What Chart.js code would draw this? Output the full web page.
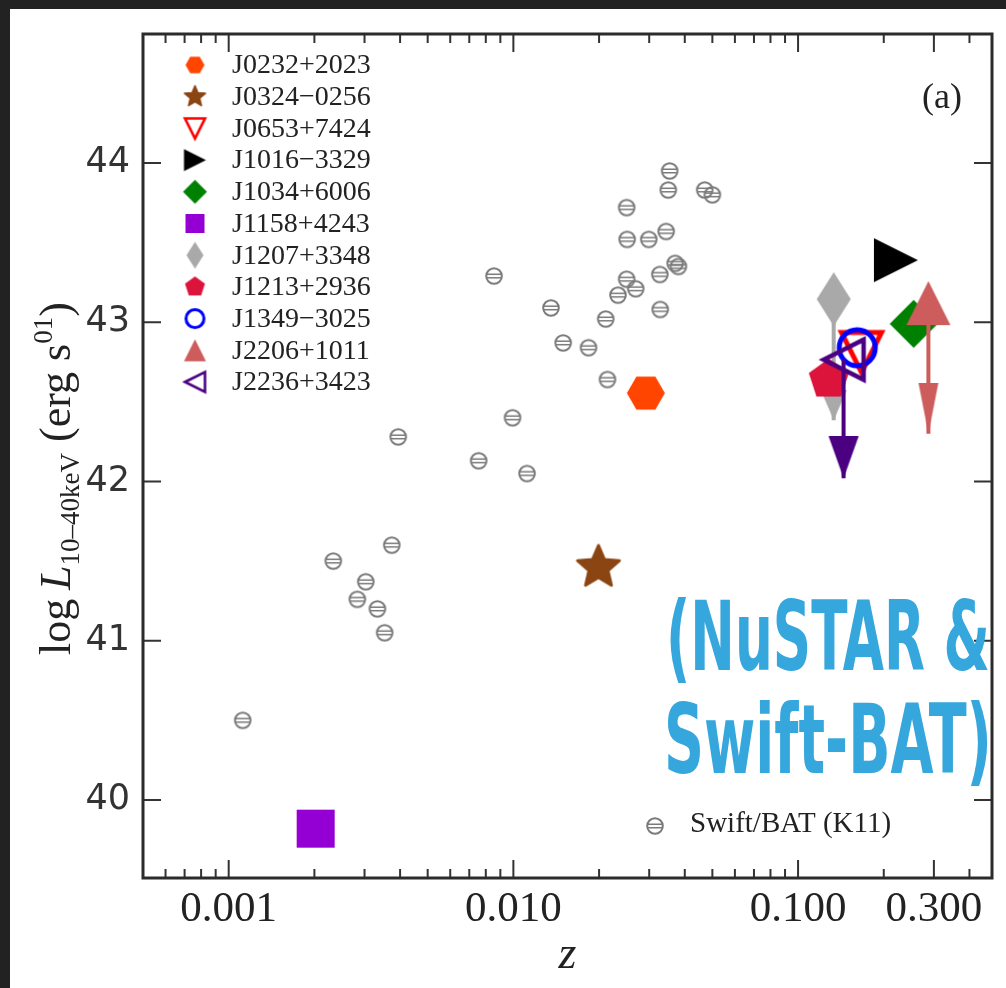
<!DOCTYPE html>
<html>
<head>
<meta charset="utf-8">
<script src="https://cdn.jsdelivr.net/npm/chart.js"></script>
<style>
  html, body { margin: 0; padding: 0; background: #222; }
  #paper { position: absolute; left: 10px; top: 9px; width: 996px; height: 979px; background: #fff; }
  #myChart { position: absolute; left: 0; top: 0; }
</style>
</head>
<body>
<div id="paper"></div>
<canvas id="myChart" width="1006" height="988"></canvas>

<script>
    // Swift/BAT (K11) comparison sample
    const swiftZ = [0.00112, 0.00233, 0.00303, 0.00283, 0.00333, 0.00353, 0.00374, 0.00394,
        0.00755, 0.00993, 0.01117, 0.00855, 0.01355, 0.01496, 0.01836, 0.0211, 0.0214, 0.0233,
        0.0250, 0.0269, 0.0327, 0.0328, 0.0370, 0.0380, 0.0251, 0.0299, 0.0344, 0.0250,
        0.0350, 0.0354, 0.0470, 0.0500];
    const swiftL = [40.50, 41.50, 41.37, 41.26, 41.20, 41.05, 41.60, 42.28,
        42.13, 42.40, 42.05, 43.29, 43.09, 42.87, 42.84, 43.02, 42.64, 43.17,
        43.27, 43.21, 43.30, 43.08, 43.37, 43.35, 43.52, 43.52, 43.57, 43.72,
        43.83, 43.95, 43.83, 43.80];

    // NuSTAR sources
    const srcNames = ['J0232+2023', 'J0324\u22120256', 'J0653+7424', 'J1016\u22123329', 'J1034+6006',
        'J1158+4243', 'J1207+3348', 'J1213+2936', 'J1349\u22123025', 'J2206+1011', 'J2236+3423'];
    const srcZ = [0.0292, 0.0199, 0.167, 0.2207, 0.2547, 0.00202, 0.1334, 0.1282, 0.1614, 0.287, 0.1445];
    const srcL = [42.555, 41.46, 42.81, 43.39, 42.99, 39.82, 43.145, 42.64, 42.84, 43.12, 42.765];

    // upper limits (arrow tips)
    const arrowSrc = ['J1207+3348', 'J2206+1011', 'J2236+3423'];
    const arrowTipL = [42.385, 42.30, 42.02];

    const xTickVals = [0.001, 0.01, 0.1, 0.3];
    const xTickLabels = ['0.001', '0.010', '0.100', '0.300'];
    const yTickVals = [40, 41, 42, 43, 44];

    // styles
    const srcShape = ['hexagon', 'star', 'triDownOpen', 'triRight', 'diamond', 'square',
        'thinDiamond', 'pentagon', 'circleOpen', 'triUp', 'triLeftOpen'];
    const srcColor = ['#ff4500', '#8b4513', '#ff0000', '#000000', '#008000', '#9400d3',
        '#a9a9a9', '#dc143c', '#0000ff', '#cd5c5c', '#4b0082'];
    const headSize = [[26, 30], [20, 51], [30, 42]];
    const AREA = { left: 143, top: 34, right: 1001, bottom: 878 };
    const pad = { top: 34, right: 5, left: 0, bottom: 0 };

    function makeCanvas(w, h, draw) {
        const c = document.createElement('canvas');
        c.width = Math.ceil(w); c.height = Math.ceil(h);
        const g = c.getContext('2d');
        g.translate(c.width / 2, c.height / 2);
        draw(g);
        return c;
    }
    function path(g, pts) {
        g.beginPath();
        pts.forEach((p, i) => i ? g.lineTo(p[0], p[1]) : g.moveTo(p[0], p[1]));
        g.closePath();
    }
    function regPts(n, r, start) {
        const pts = [];
        for (let k = 0; k < n; k++) {
            const t = start + k * 2 * Math.PI / n;
            pts.push([r * Math.cos(t), r * Math.sin(t)]);
        }
        return pts;
    }
    function marker(kind, color, s) {
        const box = 66 * s;
        return makeCanvas(box, box, g => {
            g.fillStyle = color; g.strokeStyle = color; g.lineJoin = 'miter';
            let a = 22 * s;
            switch (kind) {
                case 'hexagon': path(g, regPts(6, 19 * s, 0)); g.fill(); break;
                case 'star': {
                    const pts = [];
                    for (let k = 0; k < 10; k++) {
                        const r = k % 2 ? 10 * s : 22 * s;
                        const t = -Math.PI / 2 + k * Math.PI / 5;
                        pts.push([r * Math.cos(t), r * Math.sin(t)]);
                    }
                    path(g, pts); g.fill();
                    g.lineJoin = 'round'; g.lineWidth = 3 * s; g.stroke();
                    break;
                }
                case 'triDownOpen': a = 20 * s; path(g, [[-a, -a], [a, -a], [0, a]]);
                    g.lineWidth = Math.max(2.6, 5 * s); g.stroke(); break;
                case 'triRight': path(g, [[-a, -a], [a, 0], [-a, a]]); g.fill(); break;
                case 'triUp': path(g, [[0, -a], [a, a], [-a, a]]); g.fill(); break;
                case 'triLeftOpen': a = 20 * s; path(g, [[-a, 0], [a, -a], [a, a]]);
                    g.lineWidth = Math.max(2.6, 4.5 * s); g.stroke(); break;
                case 'diamond': a = 24 * s; path(g, [[0, -a], [a, 0], [0, a], [-a, 0]]); g.fill(); break;
                case 'thinDiamond': path(g, [[0, -27 * s], [17 * s, 0], [0, 27 * s], [-17 * s, 0]]); g.fill(); break;
                case 'square': a = 19 * s; g.fillRect(-a, -a, 2 * a, 2 * a); break;
                case 'pentagon': path(g, regPts(5, 21 * s, -Math.PI / 2)); g.fill(); break;
                case 'circleOpen': g.beginPath(); g.arc(0, 0, 18 * s, 0, 2 * Math.PI);
                    g.lineWidth = Math.max(3, 5 * s); g.stroke(); break;
            }
        });
    }
    function swiftMarker() {
        return makeCanvas(20, 20, g => {
            g.strokeStyle = '#7a7a7a'; g.lineWidth = 2;
            g.beginPath(); g.arc(0, 0, 7.8, 0, 2 * Math.PI); g.stroke();
            g.lineWidth = 1.5;
            g.beginPath();
            g.moveTo(-7, -1.7); g.lineTo(7, -1.7);
            g.moveTo(-7, 1.7); g.lineTo(7, 1.7);
            g.stroke();
        });
    }
    function arrowHead(color, w, h) {
        // tip of the head sits at the canvas centre
        return makeCanvas(w + 2, 2 * h, g => {
            g.fillStyle = color;
            path(g, [[-w / 2, -h], [w / 2, -h], [0, 0]]);
            g.fill();
        });
    }

    const swiftIcon = swiftMarker();
    const bigIcons = srcShape.map((k, i) => marker(k, srcColor[i], 1));
    const smallIcons = srcShape.map((k, i) => marker(k, srcColor[i], 0.5));

    const datasets = [];
    datasets.push({
        label: 'Swift/BAT (K11)',
        data: swiftZ.map((z, i) => ({ x: z, y: swiftL[i] })),
        pointStyle: swiftIcon, pointRadius: 8, order: 1000
    });
    srcNames.forEach((name, i) => {
        datasets.push({
            label: name,
            data: [{ x: srcZ[i], y: srcL[i] }],
            pointStyle: bigIcons[i], pointRadius: 12, order: 100 - 2 * i
        });
    });
    arrowSrc.forEach((name, k) => {
        const i = srcNames.indexOf(name);
        datasets.push({
            label: name + ' limit',
            data: [{ x: srcZ[i], y: srcL[i] }, { x: srcZ[i], y: arrowTipL[k] }],
            showLine: true, borderColor: srcColor[i], borderWidth: 4,
            pointStyle: arrowHead(srcColor[i], headSize[k][0], headSize[k][1]),
            pointRadius: c => c.dataIndex === 1 ? 10 : 0,
            order: 100 - 2 * i + 1
        });
    });

    const decor = {
        id: 'decor',
        afterDraw(chart) {
            const { ctx, chartArea: a, scales: { x, y } } = chart;
            ctx.save();

            // inward ticks on all four sides
            ctx.strokeStyle = '#333'; ctx.lineWidth = 2;
            const vt = (px, len) => {
                ctx.beginPath();
                ctx.moveTo(px, a.bottom); ctx.lineTo(px, a.bottom - len);
                ctx.moveTo(px, a.top); ctx.lineTo(px, a.top + len);
                ctx.stroke();
            };
            for (let d = -4; d <= 0; d++) {
                for (let m = 1; m <= 9; m++) {
                    const v = m * Math.pow(10, d);
                    if (v < x.min || v > x.max) continue;
                    const major = xTickVals.some(t => Math.abs(t - v) / t < 1e-6);
                    vt(x.getPixelForValue(v), major ? 18 : 9);
                }
            }
            yTickVals.forEach(v => {
                const py = y.getPixelForValue(v);
                ctx.beginPath();
                ctx.moveTo(a.left, py); ctx.lineTo(a.left + 18, py);
                ctx.moveTo(a.right, py); ctx.lineTo(a.right - 18, py);
                ctx.stroke();
            });

            // frame
            ctx.strokeStyle = '#2b2b2b'; ctx.lineWidth = 3;
            ctx.strokeRect(a.left, a.top, a.right - a.left, a.bottom - a.top);

            // legend (top left)
            ctx.fillStyle = '#222';
            ctx.font = '28px "Liberation Serif", serif';
            ctx.textBaseline = 'middle'; ctx.textAlign = 'left';
            srcNames.forEach((name, i) => {
                const ly = 65 + i * 31.7;
                const ic = smallIcons[i];
                ctx.drawImage(ic, 195 - ic.width / 2, ly - ic.height / 2);
                ctx.fillText(name, 232, ly + 1);
            });
            // Swift/BAT legend entry
            ctx.drawImage(swiftIcon, 655 - swiftIcon.width / 2, 826 - swiftIcon.height / 2);
            ctx.font = '29px "Liberation Serif", serif';
            ctx.textBaseline = 'alphabetic';
            ctx.fillText('Swift/BAT (K11)', 690, 832);

            // panel tag
            ctx.font = '36px "Liberation Serif", serif';
            ctx.textAlign = 'center'; ctx.textBaseline = 'middle';
            ctx.fillText('(a)', 942, 99);

            // y axis title
            ctx.save();
            ctx.translate(70, 655);
            ctx.rotate(-Math.PI / 2);
            ctx.textAlign = 'left'; ctx.textBaseline = 'alphabetic';
            let u = 0;
            const piece = (t, font, dv) => {
                ctx.font = font; ctx.fillText(t, u, dv); u += ctx.measureText(t).width;
            };
            piece('log\u2009', '44px "Liberation Serif"', 0);
            piece('L', 'italic 44px "Liberation Serif"', 0);
            piece('10\u201340keV', '27px "Liberation Serif"', 9);
            piece(' (erg s', '44px "Liberation Serif"', 0);
            piece('01', '27px "Liberation Serif"', -18);
            piece(')', '44px "Liberation Serif"', 0);
            ctx.restore();

            // overlay label
            ctx.fillStyle = '#36a7dd';
            ctx.textAlign = 'left'; ctx.textBaseline = 'alphabetic';
            const fit = (t, left, right, base) => {
                ctx.font = 'bold 96px "Liberation Sans Narrow", "DejaVu Sans Condensed", sans-serif';
                const w = ctx.measureText(t).width;
                ctx.save();
                ctx.translate(left, base);
                ctx.scale((right - left) / w, 1);
                ctx.fillText(t, 0, 0);
                ctx.restore();
            };
            fit('(NuSTAR &', 666, 990, 670);
            fit('Swift-BAT)', 664, 992, 773);

            ctx.restore();
        }
    };

    const chartConfig = {
        type: 'scatter',
        data: { datasets: datasets },
        options: {
            responsive: false,
            animation: false,
            events: [],
            layout: { padding: pad },
            plugins: { legend: { display: false }, tooltip: { enabled: false } },
            scales: {
                x: {
                    type: 'logarithmic',
                    min: 0.0005, max: 0.48,
                    afterBuildTicks: s => { s.ticks = xTickVals.map(v => ({ value: v })); },
                    afterFit: s => { s.height = 110; s.paddingLeft = 0; s.paddingRight = 0; },
                    grid: { display: false, drawTicks: false },
                    border: { display: false },
                    ticks: {
                        callback: (v, idx) => xTickLabels[idx],
                        font: { family: 'Liberation Serif', size: 43 },
                        color: '#222', padding: 6, maxRotation: 0, autoSkip: false
                    },
                    title: {
                        display: true, text: 'z',
                        font: { family: 'Liberation Serif', style: 'italic', size: 46 },
                        color: '#222', padding: { top: 0, bottom: 4 }
                    }
                },
                y: {
                    type: 'linear',
                    min: 39.51, max: 44.81,
                    afterBuildTicks: s => { s.ticks = yTickVals.map(v => ({ value: v })); },
                    afterFit: s => { s.width = 143; s.paddingTop = 0; s.paddingBottom = 0; },
                    grid: { display: false, drawTicks: false },
                    border: { display: false },
                    ticks: {
                        callback: v => String(v),
                        font: { family: 'DejaVu Sans', size: 35 },
                        color: '#333', padding: 13
                    }
                }
            }
        },
        plugins: [decor]
    };

    const ctx = document.getElementById('myChart');
    const myChart = new Chart(ctx, chartConfig);

    // nudge the layout padding (on the config object itself) until the frame sits where the figure has it
    for (let it = 0; it < 4; it++) {
        const a = myChart.chartArea;
        const dR = AREA.right - a.right, dT = a.top - AREA.top, dB = AREA.bottom - a.bottom;
        if (Math.abs(dR) < 0.3 && Math.abs(dT) < 0.3 && Math.abs(dB) < 0.3) break;
        const p = myChart.config.options.layout.padding;
        p.right = p.right - dR;
        p.top = p.top - dT;
        p.bottom = p.bottom - dB;
        myChart.update();
    }
</script>
</body>
</html>
